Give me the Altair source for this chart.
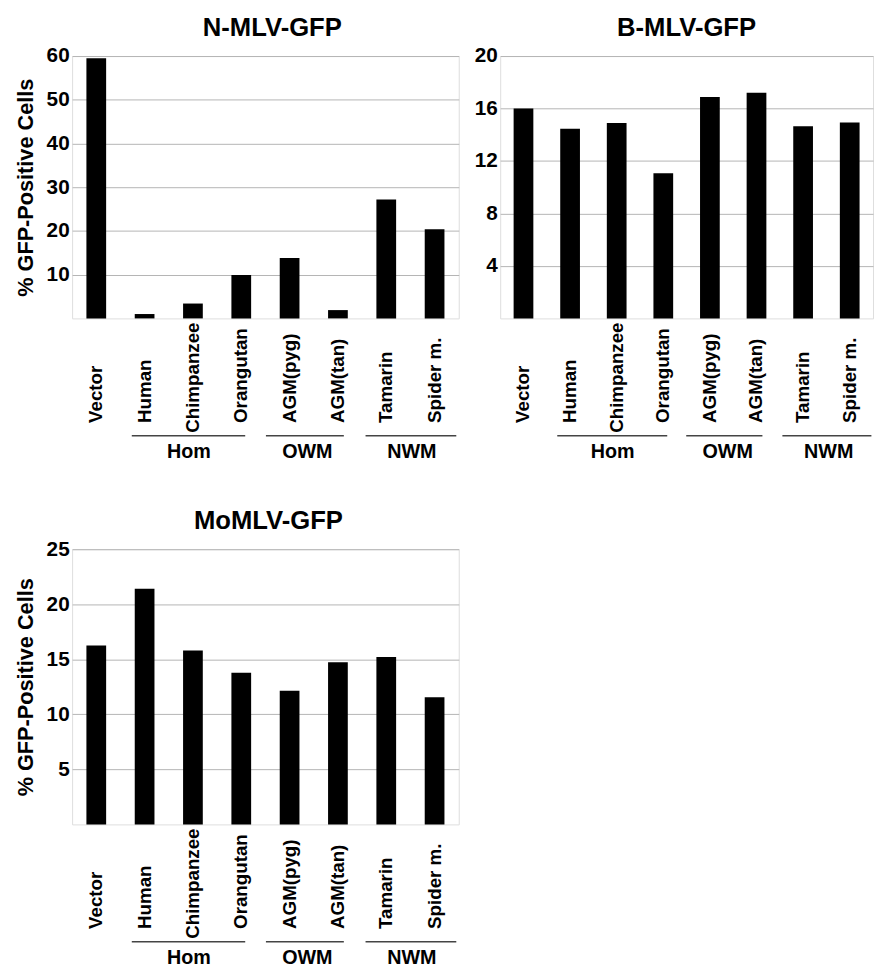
import altair as alt
import pandas as pd

CATEGORIES = ["Vector", "Human", "Chimpanzee", "Orangutan",
              "AGM(pyg)", "AGM(tan)", "Tamarin", "Spider m."]

N_MLV = [59.5, 1.0, 3.4, 9.9, 13.8, 1.9, 27.2, 20.4]
B_MLV = [16.0, 14.45, 14.9, 11.07, 16.87, 17.2, 14.64, 14.94]
MO_MLV = [16.26, 21.4, 15.8, 13.78, 12.13, 14.73, 15.2, 11.56]

N_TICKS = [10, 20, 30, 40, 50, 60]
B_TICKS = [4, 8, 12, 16, 20]
MO_TICKS = [5, 10, 15, 20, 25]

GROUP_NAMES = ["Hom", "OWM", "NWM"]
GROUP_START = ["Human", "AGM(pyg)", "Tamarin"]
GROUP_END = ["Orangutan", "AGM(tan)", "Spider m."]

Y_TITLE = "% GFP-Positive Cells"
FONT = "Liberation Sans"
LONG_LABEL = "Chimpanzee"

# pixel offsets for the group underline and its label (style, not data)
GROUP_STYLE = {
    "Hom": {"l": -13, "r": 4, "anchor": "Chimpanzee", "dx": -4},
    "OWM": {"l": -24, "r": 6, "anchor": "AGM(pyg)", "dx": 18},
    "NWM": {"l": -21, "r": 22, "anchor": "Tamarin", "dx": 26},
}


def panel(title, values, dmax, ticks, width, height, ytitle, title_dx):
    df = pd.DataFrame({"category": CATEGORIES, "value": values})
    xscale = alt.Scale(domain=CATEGORIES, paddingInner=0, paddingOuter=0)
    base = alt.Chart(df)
    bars = base.mark_bar(color="black", width=20).encode(
        x=alt.X("category:N", scale=xscale, axis=None),
        y=alt.Y("value:Q",
                scale=alt.Scale(domain=[0, dmax], nice=False, zero=True),
                axis=alt.Axis(values=ticks, title=ytitle, grid=True,
                              ticks=False, domain=False,
                              labelFont=FONT, labelFontSize=21,
                              labelFontWeight="bold", labelColor="black",
                              labelPadding=3,
                              gridColor="#b4b4b4", gridWidth=1,
                              titleFont=FONT, titleFontSize=22,
                              titleFontWeight="bold", titleColor="black",
                              titlePadding=9)),
    )
    lab_style = dict(angle=270, align="left", baseline="middle",
                     font=FONT, fontSize=19, fontWeight="bold", color="black")
    labels = base.mark_text(**lab_style).encode(
        x=alt.X("category:N", scale=xscale, axis=None),
        y=alt.value(height + 106),
        text="category:N",
    ).transform_filter(alt.datum.category != LONG_LABEL)
    labels_long = base.mark_text(**lab_style).encode(
        x=alt.X("category:N", scale=xscale, axis=None),
        y=alt.value(height + 116),
        text="category:N",
    ).transform_filter(alt.datum.category == LONG_LABEL)
    layers = [bars, labels, labels_long]
    for name, s, e in zip(GROUP_NAMES, GROUP_START, GROUP_END):
        st = GROUP_STYLE[name]
        gdf = pd.DataFrame({"start": [s], "end": [e], "name": [name],
                            "anchor": [st["anchor"]]})
        rule = alt.Chart(gdf).mark_rule(color="#444444", strokeWidth=1.5,
                                        xOffset=st["l"], x2Offset=st["r"]).encode(
            x=alt.X("start:N", scale=xscale, axis=None),
            x2="end:N",
            y=alt.value(height + 119),
        )
        txt = alt.Chart(gdf).mark_text(font=FONT, fontSize=20,
                                       fontWeight="bold", color="black",
                                       baseline="middle", dx=st["dx"]).encode(
            x=alt.X("anchor:N", scale=xscale, axis=None),
            y=alt.value(height + 136),
            text="name:N",
        )
        layers += [rule, txt]
    return alt.layer(*layers).properties(
        width=width, height=height,
        title=alt.Title(title, font=FONT, fontSize=26, fontWeight="bold",
                        color="black", offset=4, anchor="middle",
                        dx=title_dx),
    )


p1 = panel("N-MLV-GFP", N_MLV, 60, N_TICKS, 392, 266, Y_TITLE, 7)
p2 = panel("B-MLV-GFP", B_MLV, 20, B_TICKS, 378, 266, None, 0)
p3 = panel("MoMLV-GFP", MO_MLV, 25, MO_TICKS, 392, 279, Y_TITLE, 3)

top = alt.hconcat(p1, p2, spacing=14)
chart = alt.vconcat(top, p3, spacing=45).properties(
    padding={"left": 6, "top": 0, "right": 0, "bottom": 0}
).configure_view(stroke="#888888", strokeWidth=1).configure(
    background="white")

chart.save("out.html", embed_options={"renderer": "svg", "actions": False})
